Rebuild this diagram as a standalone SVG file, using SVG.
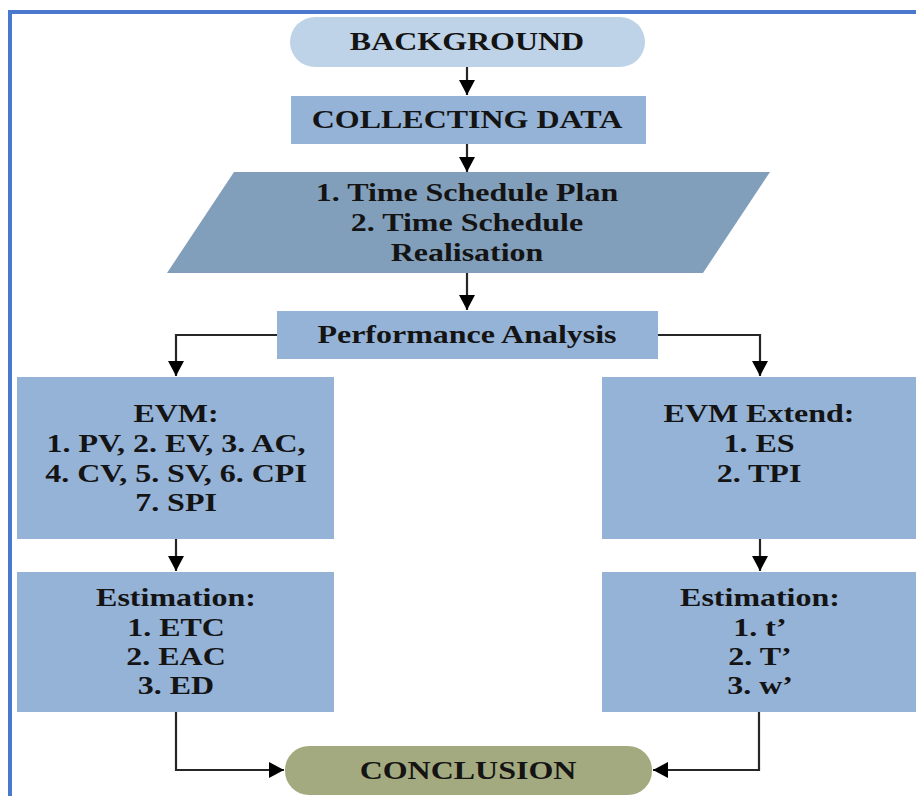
<svg xmlns="http://www.w3.org/2000/svg" width="916" height="796" viewBox="0 0 916 796">
<style>
.t{font-family:"Liberation Serif","Times New Roman",serif;font-weight:bold;font-size:26px;fill:#141414;text-anchor:middle}
.box{fill:#95B3D7}
.c{fill:none;stroke:#262626;stroke-width:2.2}
</style>
<defs>
<marker id="ah" markerUnits="userSpaceOnUse" markerWidth="18" markerHeight="16" refX="15" refY="8" orient="auto">
<path d="M0,0 L15,8 L0,16 Z" fill="#000"/>
</marker>
</defs>
<rect width="916" height="796" fill="#fff"/>
<path d="M10,796 V12 H916" fill="none" stroke="#4A78CC" stroke-width="4"/>
<g id="connectors">
<line class="c" x1="467" y1="67" x2="467" y2="95" marker-end="url(#ah)"/>
<line class="c" x1="467" y1="144" x2="467" y2="172" marker-end="url(#ah)"/>
<line class="c" x1="467" y1="273" x2="467" y2="310" marker-end="url(#ah)"/>
<polyline class="c" points="277,335 176,335 176,376" marker-end="url(#ah)"/>
<polyline class="c" points="657,335 760,335 760,376" marker-end="url(#ah)"/>
<line class="c" x1="176" y1="539" x2="176" y2="571" marker-end="url(#ah)"/>
<line class="c" x1="760" y1="539" x2="760" y2="571" marker-end="url(#ah)"/>
<polyline class="c" points="176,712 176,770 284,770" marker-end="url(#ah)"/>
<polyline class="c" points="759,712 759,770 653,770" marker-end="url(#ah)"/>
</g>
<g id="background">
<rect x="290" y="17" width="355" height="50" rx="25" fill="#BED3E7"/>
<text class="t" transform="translate(467 50) scale(1.23 1)">BACKGROUND</text>
</g>
<g id="collecting">
<rect class="box" x="291" y="96" width="355" height="48"/>
<text class="t" transform="translate(467 128) scale(1.23 1)">COLLECTING DATA</text>
</g>
<g id="schedule">
<polygon points="234,172 770,172 703,273 167,273" fill="#819FBB"/>
<text class="t" transform="translate(467 201) scale(1.23 1)">1. Time Schedule Plan</text>
<text class="t" transform="translate(467 231) scale(1.23 1)">2. Time Schedule</text>
<text class="t" transform="translate(467 261) scale(1.23 1)">Realisation</text>
</g>
<g id="performance">
<rect class="box" x="277" y="311" width="381" height="48"/>
<text class="t" transform="translate(467 343) scale(1.23 1)">Performance Analysis</text>
</g>
<g id="evm">
<rect class="box" x="17" y="377" width="317" height="162"/>
<text class="t" transform="translate(176 422) scale(1.23 1)">EVM:</text>
<text class="t" transform="translate(176 452) scale(1.23 1)">1. PV, 2. EV, 3. AC,</text>
<text class="t" transform="translate(176 482) scale(1.23 1)">4. CV, 5. SV, 6. CPI</text>
<text class="t" transform="translate(176 511) scale(1.23 1)">7. SPI</text>
</g>
<g id="estimation-left">
<rect class="box" x="17" y="572" width="317" height="140"/>
<text class="t" transform="translate(176 606) scale(1.23 1)">Estimation:</text>
<text class="t" transform="translate(176 636) scale(1.23 1)">1. ETC</text>
<text class="t" transform="translate(176 665) scale(1.23 1)">2. EAC</text>
<text class="t" transform="translate(176 694) scale(1.23 1)">3. ED</text>
</g>
<g id="evm-extend">
<rect class="box" x="602" y="377" width="320" height="162"/>
<text class="t" transform="translate(759 422) scale(1.23 1)">EVM Extend:</text>
<text class="t" transform="translate(759 452) scale(1.23 1)">1. ES</text>
<text class="t" transform="translate(759 482) scale(1.23 1)">2. TPI</text>
</g>
<g id="estimation-right">
<rect class="box" x="602" y="572" width="320" height="140"/>
<text class="t" transform="translate(760 606) scale(1.23 1)">Estimation:</text>
<text class="t" transform="translate(760 636) scale(1.23 1)">1. t’</text>
<text class="t" transform="translate(760 665) scale(1.23 1)">2. T’</text>
<text class="t" transform="translate(760 694) scale(1.23 1)">3. w’</text>
</g>
<g id="conclusion">
<rect x="285" y="746" width="367" height="49" rx="24" fill="#A4AA7F"/>
<text class="t" transform="translate(468 779) scale(1.23 1)">CONCLUSION</text>
</g>
</svg>
